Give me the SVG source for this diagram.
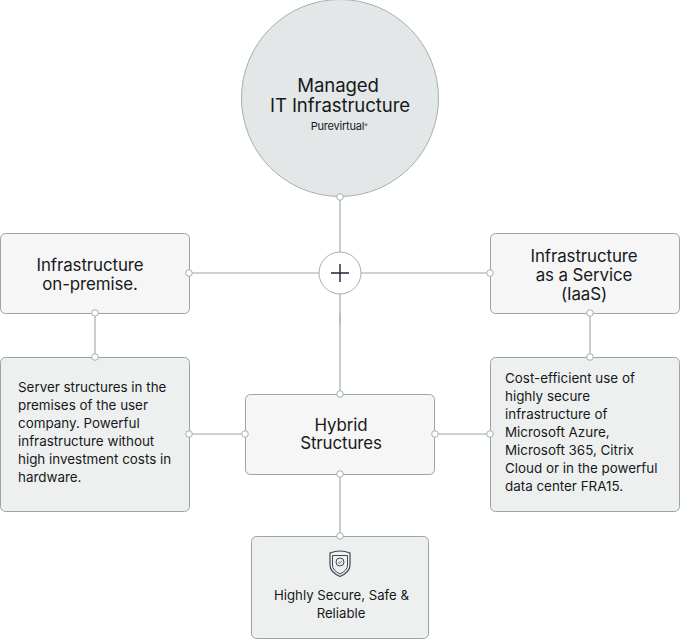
<svg xmlns="http://www.w3.org/2000/svg" width="680" height="639" viewBox="0 0 680 639">
<style>
text{font-family:Inter,"Liberation Sans",sans-serif;fill:#16191c;text-anchor:middle}
.h{font-size:16.9px;letter-spacing:-.1px}
.b{font-size:13.4px;text-anchor:start}
.s{font-size:13.2px}
.box{stroke:#97a7a5;stroke-width:1}
.light{fill:#f6f6f6}
.dark{fill:#eef0ef}
.thin{stroke:#97a7a5;stroke-width:1;fill:none}
.thick{stroke:#c5d0ce;stroke-width:2;fill:none}
.dot{fill:#fff;stroke:#a3b1af;stroke-width:1}
</style>
<rect width="680" height="639" fill="#fff"/>
<g id="connectors">
<path class="thick" d="M340 197V252M340 294V394M95 313V357M590 313V357M340 474V536"/>
<path class="thin" d="M190 273H319M361 273H490M190 434H245M435 434H490"/>
<path d="M340 313V325" stroke="#b4c0bf" stroke-width="2"/>
</g>
<g id="node-managed">
<circle cx="340" cy="98" r="98.500" fill="#e4e7e7" stroke="#a3b1af"/>
<text x="338" y="92" style="font-size:18.6px;letter-spacing:-.1px">Managed</text>
<text x="340" y="112" style="font-size:18.6px;letter-spacing:-.1px">IT Infrastructure</text>
<text x="339" y="130" style="font-size:11px;letter-spacing:-.2px">Purevirtual<tspan font-size="5" dy="-3">®</tspan></text>
</g>
<g id="node-plus">
<circle cx="340" cy="273" r="21" fill="#fff" stroke="#a3b1af"/>
<path d="M331 273H349M340 264V282" stroke="#1c2733" stroke-width="1.4"/>
</g>
<g id="node-onpremise">
<rect class="box light" x="0.500" y="233.500" width="189" height="80" rx="5"/>
<text class="h" x="90" y="271">Infrastructure</text>
<text class="h" x="90" y="290">on-premise.</text>
</g>
<g id="node-iaas">
<rect class="box light" x="490.500" y="233.500" width="189" height="80" rx="5"/>
<text class="h" x="584" y="262">Infrastructure</text>
<text class="h" x="584" y="281">as a Service</text>
<text class="h" x="584" y="300">(IaaS)</text>
</g>
<g id="node-server">
<rect class="box dark" x="0.500" y="357.500" width="189" height="154" rx="5"/>
<text class="b" x="18" y="392">Server structures in the</text>
<text class="b" x="18" y="410">premises of the user</text>
<text class="b" x="18" y="428">company. Powerful</text>
<text class="b" x="18" y="446">infrastructure without</text>
<text class="b" x="18" y="464">high investment costs in</text>
<text class="b" x="18" y="482">hardware.</text>
</g>
<g id="node-cost">
<rect class="box dark" x="490.500" y="357.500" width="189" height="154" rx="5"/>
<text class="b" x="505" y="383">Cost-efficient use of</text>
<text class="b" x="505" y="401">highly secure</text>
<text class="b" x="505" y="419">infrastructure of</text>
<text class="b" x="505" y="437">Microsoft Azure,</text>
<text class="b" x="505" y="455">Microsoft 365, Citrix</text>
<text class="b" x="505" y="473">Cloud or in the powerful</text>
<text class="b" x="505" y="491">data center FRA15.</text>
</g>
<g id="node-hybrid">
<rect class="box light" x="245.500" y="394.500" width="189" height="80" rx="5"/>
<text class="h" x="341" y="431">Hybrid</text>
<text class="h" x="341" y="449">Structures</text>
</g>
<g id="node-secure">
<rect class="box dark" x="251.500" y="536.500" width="177" height="102" rx="5"/>
<path d="M330 553Q340 549 350 553V565Q350 572 340 576.500Q330 572 330 565Z" fill="none" stroke="#3d4a55" stroke-width="1.200"/>
<path d="M332.500 555.500H347.500V565Q347.500 570.500 340 574Q332.500 570.500 332.500 565Z" fill="none" stroke="#3d4a55" stroke-width="1"/>
<circle cx="340" cy="562" r="4" fill="none" stroke="#3d4a55"/>
<path d="M338.300 562L339.600 563.400L341.900 560.800" fill="none" stroke="#3d4a55" stroke-width=".8"/>
<text class="s" x="341.500" y="600">Highly Secure, Safe &amp;</text>
<text class="s" x="341" y="618">Reliable</text>
</g>
<g id="ports">
<circle class="dot" cx="340" cy="197" r="3.300"/>
<circle class="dot" cx="189" cy="273" r="3.300"/>
<circle class="dot" cx="490" cy="273" r="3.300"/>
<circle class="dot" cx="95" cy="313" r="3.300"/>
<circle class="dot" cx="95" cy="357" r="3.300"/>
<circle class="dot" cx="590" cy="313" r="3.300"/>
<circle class="dot" cx="590" cy="357" r="3.300"/>
<circle class="dot" cx="340" cy="394" r="3.300"/>
<circle class="dot" cx="340" cy="474" r="3.300"/>
<circle class="dot" cx="340" cy="536" r="3.300"/>
<circle class="dot" cx="189" cy="434" r="3.300"/>
<circle class="dot" cx="245" cy="434" r="3.300"/>
<circle class="dot" cx="435" cy="434" r="3.300"/>
<circle class="dot" cx="490" cy="434" r="3.300"/>
</g>
</svg>
